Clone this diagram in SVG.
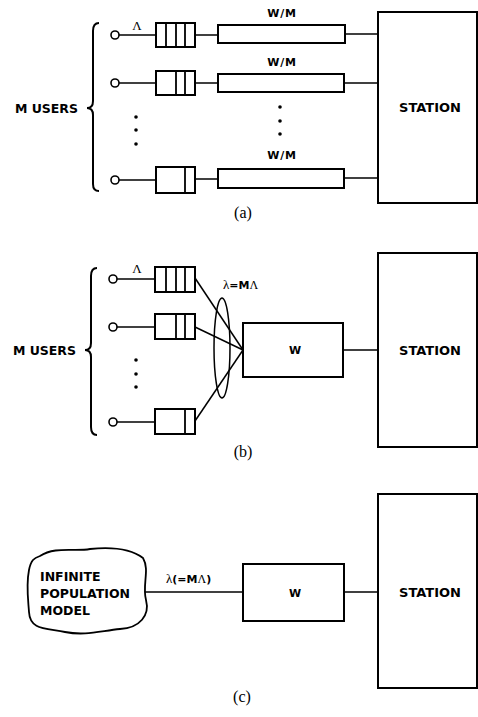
<svg xmlns="http://www.w3.org/2000/svg" width="478" height="717" viewBox="0 0 478 717">
<style>
.box{fill:#fff;stroke:#000;stroke-width:2}
.div{stroke:#000;stroke-width:1.8}
.ln{stroke:#000;stroke-width:1.5;fill:none}
.brace{stroke:#000;stroke-width:2;fill:none}
.src{fill:#fff;stroke:#000;stroke-width:1.6}
.lbl{font-family:"DejaVu Sans","Liberation Sans",sans-serif;font-weight:bold;fill:#000}
.greek{font-family:"Liberation Serif","DejaVu Serif",serif;fill:#000}
.cap{font-family:"Liberation Serif","Times New Roman",serif;font-size:16px;fill:#000;text-anchor:middle}
.dot{fill:#000}
</style>
<rect width="478" height="717" fill="#fff"/>

<!-- connectors -->
<g id="connectors">
  <!-- (a) -->
  <line class="ln" x1="119" y1="35" x2="156" y2="35"/>
  <line class="ln" x1="195" y1="35" x2="218" y2="35"/>
  <line class="ln" x1="345" y1="34" x2="378" y2="34"/>
  <line class="ln" x1="119" y1="83" x2="156" y2="83"/>
  <line class="ln" x1="195" y1="83" x2="218" y2="83"/>
  <line class="ln" x1="345" y1="83" x2="378" y2="83"/>
  <line class="ln" x1="119" y1="180" x2="156" y2="180"/>
  <line class="ln" x1="195" y1="179" x2="218" y2="179"/>
  <line class="ln" x1="345" y1="178" x2="378" y2="178"/>
  <!-- (b) -->
  <line class="ln" x1="117" y1="279" x2="155" y2="279"/>
  <line class="ln" x1="117" y1="327" x2="155" y2="327"/>
  <line class="ln" x1="117" y1="422" x2="155" y2="422"/>
  <line class="ln" x1="195" y1="278" x2="243" y2="350"/>
  <line class="ln" x1="195" y1="327" x2="243" y2="350"/>
  <line class="ln" x1="195" y1="421" x2="243" y2="350"/>
  <line class="ln" x1="343" y1="350" x2="378" y2="350"/>
  <!-- (c) -->
  <line class="ln" x1="145" y1="592" x2="243" y2="592"/>
  <line class="ln" x1="344" y1="592" x2="378" y2="592"/>
</g>

<!-- (a) -->
<g id="a-users">
  <path class="brace" d="M99 23 Q93 23 93 31 L93 101 Q93 108 87 108 Q93 108 93 115 L93 184 Q93 191 99 191"/>
  <text class="lbl" x="78" y="113" font-size="12.5" text-anchor="end">M USERS</text>
  <text class="greek" x="137" y="30" font-size="13" text-anchor="middle">Λ</text>
  <circle cx="136" cy="117" r="1.8" class="dot"/>
  <circle cx="136" cy="130" r="1.8" class="dot"/>
  <circle cx="136" cy="144" r="1.8" class="dot"/>
</g>
<g id="a-user1">
  <circle class="src" cx="115" cy="35" r="4"/>
  <rect class="box" x="156" y="23" width="39" height="24"/>
  <line class="div" x1="166" y1="23" x2="166" y2="47"/>
  <line class="div" x1="176" y1="23" x2="176" y2="47"/>
  <line class="div" x1="185" y1="23" x2="185" y2="47"/>
</g>
<g id="a-user2">
  <circle class="src" cx="115" cy="83" r="4"/>
  <rect class="box" x="156" y="71" width="39" height="24"/>
  <line class="div" x1="176" y1="71" x2="176" y2="95"/>
  <line class="div" x1="185" y1="71" x2="185" y2="95"/>
</g>
<g id="a-userM">
  <circle class="src" cx="115" cy="180" r="4"/>
  <rect class="box" x="156" y="167" width="39" height="26"/>
  <line class="div" x1="185" y1="167" x2="185" y2="193"/>
</g>
<g id="a-server1">
  <rect class="box" x="218" y="25" width="127" height="18"/>
  <text class="lbl" x="282" y="17" font-size="11" text-anchor="middle" letter-spacing="0.8">W/M</text>
</g>
<g id="a-server2">
  <rect class="box" x="218" y="74" width="126" height="18"/>
  <text class="lbl" x="282" y="66" font-size="11" text-anchor="middle" letter-spacing="0.8">W/M</text>
</g>
<g id="a-serverM">
  <rect class="box" x="218" y="169" width="126" height="19"/>
  <text class="lbl" x="282" y="159" font-size="11" text-anchor="middle" letter-spacing="0.8">W/M</text>
  <circle cx="280" cy="107" r="1.8" class="dot"/>
  <circle cx="280" cy="121" r="1.8" class="dot"/>
  <circle cx="280" cy="134" r="1.8" class="dot"/>
</g>
<g id="a-station">
  <rect class="box" x="378" y="12" width="99" height="191"/>
  <text class="lbl" x="430" y="112" font-size="13" text-anchor="middle">STATION</text>
</g>
<text class="cap" x="243" y="218">(a)</text>

<!-- (b) -->
<g id="b-users">
  <path class="brace" d="M97 268 Q91 268 91 276 L91 343 Q91 350 85 350 Q91 350 91 357 L91 427 Q91 435 97 435"/>
  <text class="lbl" x="76" y="355" font-size="12.5" text-anchor="end">M USERS</text>
  <text class="greek" x="137" y="273" font-size="13" text-anchor="middle">Λ</text>
  <circle cx="136" cy="360" r="1.8" class="dot"/>
  <circle cx="136" cy="374" r="1.8" class="dot"/>
  <circle cx="136" cy="387" r="1.8" class="dot"/>
</g>
<g id="b-user1">
  <circle class="src" cx="113" cy="279" r="4"/>
  <rect class="box" x="155" y="267" width="40" height="25"/>
  <line class="div" x1="166" y1="267" x2="166" y2="292"/>
  <line class="div" x1="176" y1="267" x2="176" y2="292"/>
  <line class="div" x1="185" y1="267" x2="185" y2="292"/>
</g>
<g id="b-user2">
  <circle class="src" cx="113" cy="327" r="4"/>
  <rect class="box" x="155" y="314" width="40" height="25"/>
  <line class="div" x1="176" y1="314" x2="176" y2="339"/>
  <line class="div" x1="185" y1="314" x2="185" y2="339"/>
</g>
<g id="b-userM">
  <circle class="src" cx="113" cy="422" r="4"/>
  <rect class="box" x="155" y="409" width="40" height="25"/>
  <line class="div" x1="185" y1="409" x2="185" y2="434"/>
</g>
<g id="b-merge">
  <ellipse cx="222" cy="348" rx="8" ry="50" fill="none" stroke="#000" stroke-width="1.5"/>
  <text class="lbl" x="223" y="289" font-size="11"><tspan font-family="Liberation Serif, serif" font-weight="normal" font-size="13">λ</tspan>=M<tspan font-family="Liberation Serif, serif" font-weight="normal" font-size="12">Λ</tspan></text>
</g>
<g id="b-server">
  <rect class="box" x="243" y="323" width="100" height="54"/>
  <text class="lbl" x="295" y="354" font-size="11" text-anchor="middle">W</text>
</g>
<g id="b-station">
  <rect class="box" x="378" y="253" width="99" height="194"/>
  <text class="lbl" x="430" y="355" font-size="13" text-anchor="middle">STATION</text>
</g>
<text class="cap" x="243" y="457">(b)</text>

<!-- (c) -->
<g id="c-population">
  <path d="M40 556 C55 546 75 552 90 549 C110 547 130 548 143 558 C150 570 142 585 146 600 C150 615 140 628 120 629 C100 631 85 636 65 632 C45 628 30 630 29 612 C28 598 26 585 29 570 C31 560 34 558 40 556 Z" fill="#fff" stroke="#000" stroke-width="1.8"/>
  <text class="lbl" font-size="12.5"><tspan x="40" y="581">INFINITE</tspan><tspan x="40" y="598">POPULATION</tspan><tspan x="40" y="615">MODEL</tspan></text>
  <text class="lbl" x="166" y="583" font-size="11"><tspan font-family="Liberation Serif, serif" font-weight="normal" font-size="13">λ</tspan>(=M<tspan font-family="Liberation Serif, serif" font-weight="normal" font-size="12">Λ</tspan>)</text>
</g>
<g id="c-server">
  <rect class="box" x="243" y="564" width="101" height="57"/>
  <text class="lbl" x="295" y="597" font-size="11" text-anchor="middle">W</text>
</g>
<g id="c-station">
  <rect class="box" x="378" y="494" width="99" height="194"/>
  <text class="lbl" x="430" y="597" font-size="13" text-anchor="middle">STATION</text>
</g>
<text class="cap" x="242" y="702">(c)</text>
</svg>
